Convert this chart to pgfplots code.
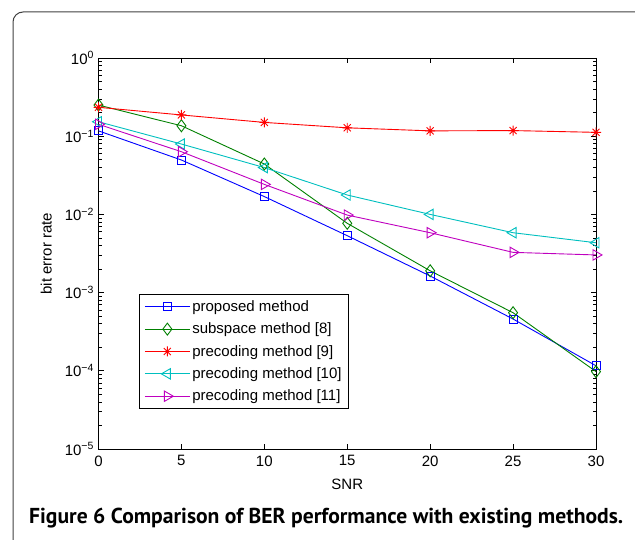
\documentclass[border=0pt]{standalone}
\usepackage{pgfplots}
\pgfplotsset{compat=1.18}
\usepackage{fontspec}
\setmainfont{Liberation Sans}
\newfontfamily\capfont{PT Sans}
\pgfdeclareplotmark{mstar}{%
  \pgfpathmoveto{\pgfqpoint{-\pgfplotmarksize}{0pt}}\pgfpathlineto{\pgfqpoint{\pgfplotmarksize}{0pt}}%
  \pgfpathmoveto{\pgfqpoint{0pt}{-\pgfplotmarksize}}\pgfpathlineto{\pgfqpoint{0pt}{\pgfplotmarksize}}%
  \pgfpathmoveto{\pgfqpoint{-.707\pgfplotmarksize}{-.707\pgfplotmarksize}}\pgfpathlineto{\pgfqpoint{.707\pgfplotmarksize}{.707\pgfplotmarksize}}%
  \pgfpathmoveto{\pgfqpoint{-.707\pgfplotmarksize}{.707\pgfplotmarksize}}\pgfpathlineto{\pgfqpoint{.707\pgfplotmarksize}{-.707\pgfplotmarksize}}%
  \pgfusepathqstroke}
\definecolor{mblue}{rgb}{0,0,1}
\definecolor{mgreen}{rgb}{0,0.5,0}
\definecolor{mred}{rgb}{1,0,0}
\definecolor{mcyan}{rgb}{0,0.75,0.75}
\definecolor{mmag}{rgb}{0.75,0,0.75}
\pgfplotstableread{
x    prop      sub        p9     p10     p11
0    0.117     0.25       0.234  0.153   0.142
5    0.0496    0.136      0.187  0.0794  0.0633
10   0.0169    0.0441     0.150  0.0397  0.0242
15   0.00534   0.00769    0.128  0.0177  0.0098
20   0.00163   0.0019     0.117  0.0100  0.00583
25   0.000459  0.000553   0.118  0.00583 0.00327
30   0.000116  0.0000977  0.112  0.00434 0.00303
}\data
\newcommand\ff{\fontsize{15}{17}\selectfont}
\begin{document}
\begin{tikzpicture}[x=1pt,y=1pt]
\path[use as bounding box] (0,0) rectangle (635,540);
\begin{scope}
\clip (0,0) rectangle (635,540);
\draw[line width=1pt, black!75, rounded corners=10pt] (13,528) rectangle (670,-40);
\end{scope}
\node[anchor=base west, inner sep=0pt] at (29,16) {\resizebox{594pt}{!}{\capfont\bfseries Figure 6 Comparison of BER performance with existing methods.}};
\begin{axis}[
  at={(98.5pt,91pt)}, anchor=south west,
  scale only axis, width=497.5pt, height=391pt,
  ymode=log, xmin=0, xmax=30, ymin=1e-5, ymax=1,
  xtick={0,5,...,30},
  ytick={1e-5,1e-4,1e-3,1e-2,1e-1,1},
  yticklabels={10\textsuperscript{−5},10\textsuperscript{−4},10\textsuperscript{−3},10\textsuperscript{−2},10\textsuperscript{−1},10\textsuperscript{0}},
  /pgf/number format/assume math mode=true,
  tick align=inside, tick pos=both,
  major tick length=5pt, minor tick length=3pt,
  tick style={black, line width=0.6pt},
  axis line style={line width=0.8pt},
  font=\ff,
  tick label style={font=\ff},
  label style={font=\ff},
  xlabel={SNR}, ylabel={bit error rate},
  xlabel style={at={(axis description cs:0.5,-0.09)}, anchor=center},
  ylabel style={at={(axis description cs:-0.105,0.5)}, anchor=center},
  xticklabel style={yshift=-3pt},
  yticklabel style={xshift=-1pt},
  legend style={at={(axis description cs:0.0814,0.396)}, anchor=north west,
    draw=black, line width=0.8pt, font=\ff,
    row sep=6pt, inner xsep=5pt, inner ysep=4pt,
    cells={anchor=west}},
  legend image code/.code={\draw[mark repeat=2,mark phase=2] plot coordinates {(0pt,0pt) (22.5pt,0pt) (45pt,0pt)};},
  every axis plot/.append style={line width=0.9pt},
]
\addplot[color=mblue, mark=square, mark size=4pt] table[x=x,y=prop] {\data};
\addlegendentry{proposed method}
\addplot[color=mgreen, mark=diamond, mark size=6pt] table[x=x,y=sub] {\data};
\addlegendentry{subspace method [8]}
\addplot[color=mred, mark=mstar, mark size=5pt] table[x=x,y=p9] {\data};
\addlegendentry{precoding method [9]}
\addplot[color=mcyan, mark=triangle, mark size=6pt, mark options={rotate=90}] table[x=x,y=p10] {\data};
\addlegendentry{precoding method [10]}
\addplot[color=mmag, mark=triangle, mark size=6pt, mark options={rotate=-90}] table[x=x,y=p11] {\data};
\addlegendentry{precoding method [11]}
\end{axis}
\end{tikzpicture}
\end{document}
